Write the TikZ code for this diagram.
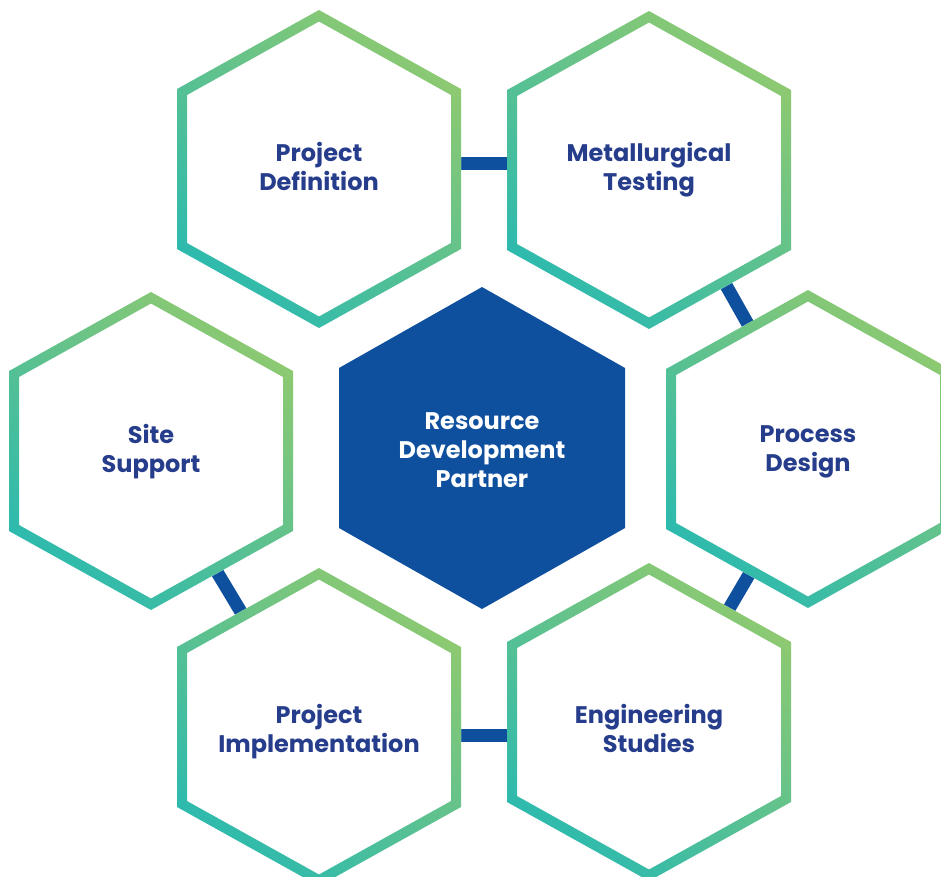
\documentclass[tikz,border=0pt]{standalone}
\usepackage{fontspec}
\setmainfont{Poppins}
\usetikzlibrary{calc,backgrounds}

\definecolor{hexgreen}{HTML}{8DC971}
\definecolor{hexteal}{HTML}{2DBAAE}
\definecolor{coreblue}{HTML}{0F509E}
\definecolor{labelblue}{HTML}{263D8C}

\tikzset{
  label text/.style={font=\bfseries\fontsize{24}{29}\selectfont, text=labelblue, align=center},
  core text/.style={label text, text=white},
  link/.style={draw=coreblue, line width=13pt},
  hex ring/.style={even odd rule, top color=hexgreen, bottom color=hexteal, shading angle=-40},
}

% white hexagon with a shaded outline, around a named node (optional vertical offset)
\newcommand\hexring[2][0]{%
  \begin{scope}[shift={($(#2)+(0,#1)$)}]
    \fill[white] (0,-159) -- (142,-80) -- (142,80) -- (0,159) -- (-142,80) -- (-142,-80) -- cycle;
    \shade[hex ring] (0,-159) -- (142,-80) -- (142,80) -- (0,159) -- (-142,80) -- (-142,-80) -- cycle
      (0,-147.5) -- (132,-74) -- (132,74) -- (0,147.5) -- (-132,74) -- (-132,-74) -- cycle;
  \end{scope}}

\begin{document}
\begin{tikzpicture}[x=1pt, y=-1pt]
    \useasboundingbox (0,0) rectangle (941,876);

    % Etapas
    \node[label text] (def)  at (319,166) {Project\\Definition};
    \node[label text] (met)  at (649,170) {Metallurgical\\Testing};
    \node[label text] (site) at (151,452) {Site\\Support};
    \node[label text] (proc) at (808,452) {Process\\Design};
    \node[label text] (impl) at (319,732) {Project\\Implementation};
    \node[label text] (eng)  at (649,728) {Engineering\\Studies};

    % Centro
    \node[core text] (core) at (482,450) {Resource\\Development\\Partner};

    \begin{pgfonlayer}{background}
        % Uniones
        \draw[link] ([yshift=3pt]def.center) -- ([yshift=7pt]met.center);
        \draw[link] ([xshift=12pt]met.center) -- ([xshift=12pt]proc.center);
        \draw[link] ([xshift=13pt]proc.center) -- ([xshift=10pt]eng.center);
        \draw[link] ([yshift=-3pt]impl.center) -- ([yshift=-7pt]eng.center);
        \draw[link] ([xshift=-6pt]site.center) -- ([xshift=-6pt]impl.center);

        % Hexagonos
        \hexring[3]{def}
        \hexring{met}
        \hexring[-1]{site}
        \hexring[-3]{proc}
        \hexring[-5]{impl}
        \hexring[-6]{eng}
        \fill[coreblue] ($(core)+(0,-163)$) -- ($(core)+(143,-82)$) -- ($(core)+(143,78)$)
            -- ($(core)+(0,159)$) -- ($(core)+(-143,78)$) -- ($(core)+(-143,-82)$) -- cycle;
    \end{pgfonlayer}
\end{tikzpicture}
\end{document}
